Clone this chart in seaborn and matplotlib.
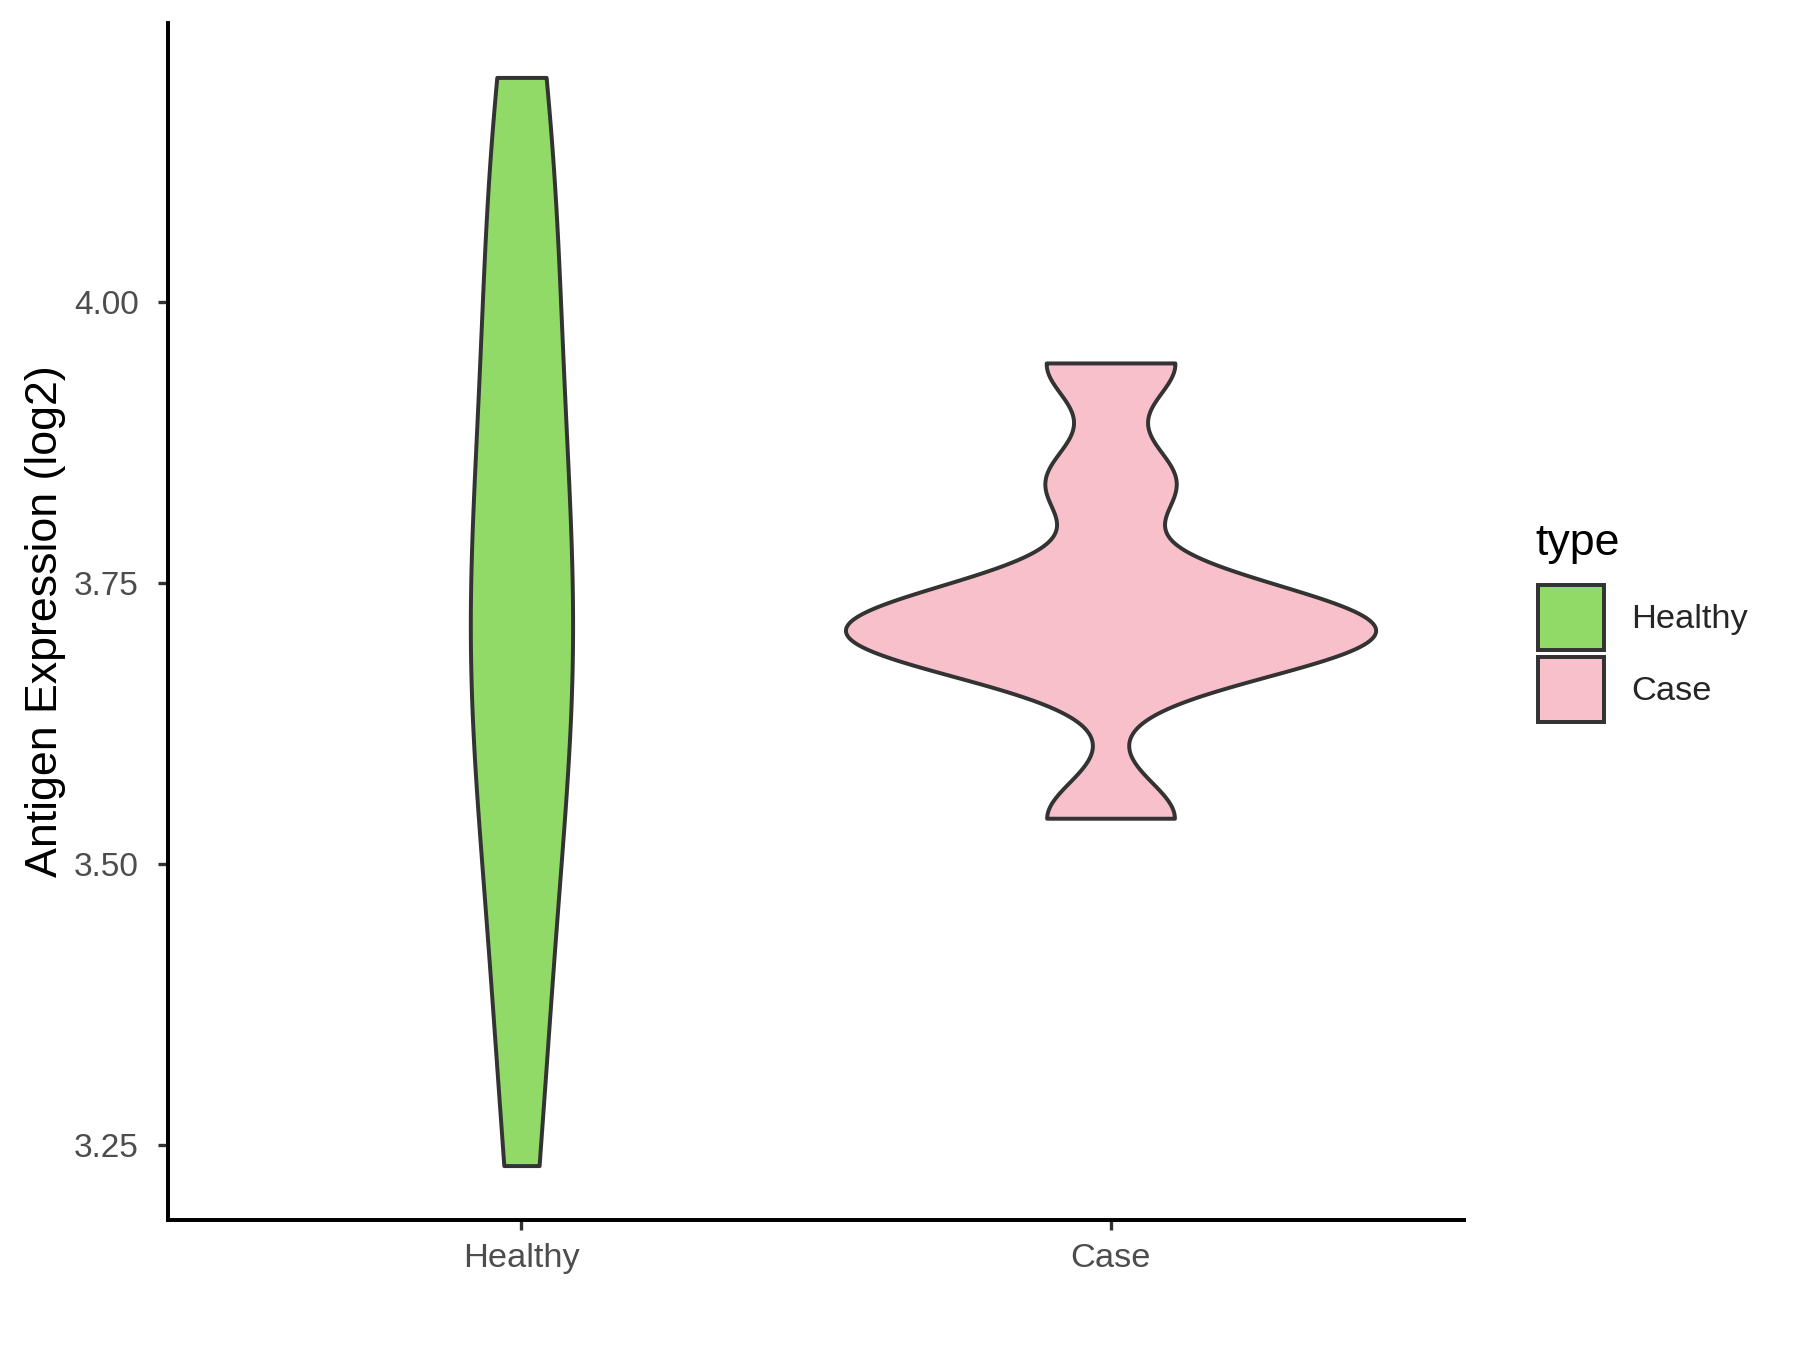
import numpy as np
import pandas as pd
import matplotlib
matplotlib.use("Agg")
import matplotlib.pyplot as plt
import seaborn as sns
from matplotlib.patches import Patch

# ---- data ----
categories = ["Healthy", "Case"]
healthy_values = [3.232, 3.35, 3.45, 3.53, 3.60, 3.65, 3.69, 3.73, 3.78,
                  3.84, 3.91, 3.99, 4.07, 4.14, 4.20]
case_values = [3.541, 3.68, 3.697, 3.708, 3.719, 3.745, 3.84, 3.946]
colors = ["#91DA68", "#F7C0CB"]
y_ticks = [3.25, 3.50, 3.75, 4.00]
y_tick_labels = ["3.25", "3.50", "3.75", "4.00"]
y_label = "Antigen Expression (log2)"
legend_title = "type"

df = pd.DataFrame({
    "type": ["Healthy"] * len(healthy_values) + ["Case"] * len(case_values),
    "value": healthy_values + case_values,
})
df["type"] = pd.Categorical(df["type"], categories=categories)


def nrd0(kde):
    """R's default bandwidth (bw.nrd0) expressed as a scipy factor."""
    x = np.asarray(kde.dataset).ravel()
    sd = x.std(ddof=1)
    q75, q25 = np.percentile(x, [75, 25])
    lo = min(sd, (q75 - q25) / 1.34)
    h = 0.9 * lo * len(x) ** (-0.2)
    return h / sd


sns.set_style("ticks")
plt.rcParams["font.family"] = ["Liberation Sans", "DejaVu Sans"]

W, H = 1800, 1350
fig = plt.figure(figsize=(12, 9), dpi=150)
left, right, top, bottom = 168 / W, 1464 / W, 1 - 23 / H, 1 - 1220 / H
ax = fig.add_axes([left, bottom, right - left, top - bottom])

line_col = "#333333"
sns.violinplot(
    data=df, x="type", y="value", hue="type",
    order=categories, hue_order=categories, palette=colors,
    saturation=1, width=0.9, cut=0, inner=None,
    density_norm="area", common_norm=True, bw_method=nrd0,
    gridsize=512, linewidth=1.9, linecolor=line_col,
    legend=False, ax=ax,
)

# ggplot-like limits
vals = np.array(healthy_values + case_values)
rng = vals.max() - vals.min()
ax.set_ylim(vals.min() - 0.05 * rng, vals.max() + 0.05 * rng)
ax.set_xlim(-0.6, 1.6)

ax.set_yticks(y_ticks)
ax.set_yticklabels(y_tick_labels)
ax.set_xlabel("")
ax.set_ylabel(y_label, fontsize=21.5, color="black", labelpad=4)

for s in ["top", "right"]:
    ax.spines[s].set_visible(False)
for s in ["left", "bottom"]:
    ax.spines[s].set_linewidth(1.9)
    ax.spines[s].set_color("black")
ax.tick_params(axis="both", length=5, width=1.6, color=line_col,
               labelcolor="#4D4D4D")
ax.tick_params(axis="y", pad=9, labelsize=16)
ax.tick_params(axis="x", pad=6, labelsize=16.5)
ax.grid(False)

# legend
handles = [Patch(facecolor=c, edgecolor=line_col, linewidth=1.9) for c in colors]
leg = fig.legend(
    handles, categories, loc="upper left",
    bbox_to_anchor=(1538 / W, 1 - 585 / H), frameon=False,
    fontsize=16.5, handlelength=1.92, handleheight=2.55,
    labelspacing=0.18, handletextpad=0.8, borderpad=0, borderaxespad=0,
)
fig.text(1535 / W, 1 - 555 / H, legend_title, fontsize=21.5,
         color="black", ha="left", va="baseline")

fig.savefig("out.png", dpi=150, facecolor="white")
